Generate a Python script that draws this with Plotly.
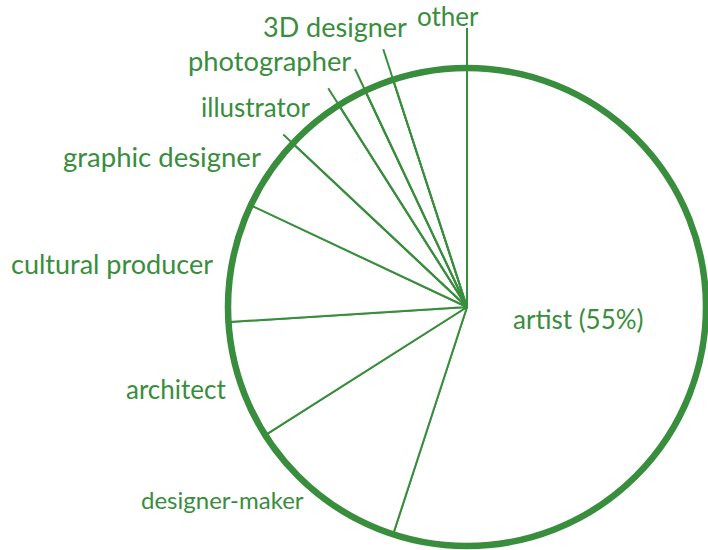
import math
import plotly.graph_objects as go

# Share of respondents by self-described role (percent)
roles = ["artist", "designer-maker", "architect", "cultural producer",
         "graphic designer", "illustrator", "photographer", "3D designer", "other"]
shares = [55, 11, 8, 8, 5, 4, 2, 2, 5]

# ---- layout constants -------------------------------------------------
W, H = 708, 550
CX, CY, R = 467, 307, 239          # pie centre / radius in pixels
GREEN = "#388e3c"
FONT = "Lato, 'Open Sans', sans-serif"

# small slices get their closing edge extended out towards the label
leader_reach = {"graphic designer": 252, "illustrator": 259,
                "photographer": 263, "3D designer": 271, "other": 279}

# label placement: (x centre px, baseline px, font size)
label_style = {
    "artist": (578, 328, 26),
    "designer-maker": (222, 507, 24),
    "architect": (176, 398, 26),
    "cultural producer": (112, 272, 27),
    "graphic designer": (162, 166, 27.5),
    "illustrator": (256, 116, 26),
    "photographer": (269, 70, 27.3),
    "3D designer": (335, 35, 27),
    "other": (448, 25, 26),
}


def px(x):
    return x / W


def py(y):
    return 1 - y / H


fig = go.Figure(go.Pie(
    labels=roles,
    values=shares,
    sort=False,
    direction="clockwise",
    rotation=0,
    textinfo="none",
    hoverinfo="label+percent",
    marker=dict(colors=["white"] * len(roles), line=dict(color=GREEN, width=2)),
    domain=dict(x=[px(CX - R), px(CX + R)], y=[py(CY + R), py(CY - R)]),
    showlegend=False,
))

shapes = []
# heavy outer rim
shapes.append(dict(type="circle", xref="paper", yref="paper",
                   x0=px(CX - R), x1=px(CX + R), y0=py(CY + R), y1=py(CY - R),
                   line=dict(color=GREEN, width=6.5), layer="above"))

total = sum(shares)
cum = 0
annotations = []
for role, val in zip(roles, shares):
    cum += val
    end_ang = math.radians(cum / total * 360)
    if role in leader_reach:
        reach = leader_reach[role]
        shapes.append(dict(type="line", xref="paper", yref="paper",
                           x0=px(CX), y0=py(CY),
                           x1=px(CX + reach * math.sin(end_ang)),
                           y1=py(CY - reach * math.cos(end_ang)),
                           line=dict(color=GREEN, width=2), layer="above"))
    x, base, fs = label_style[role]
    text = f"{role} ({val}%)" if role == "artist" else role
    annotations.append(dict(text=text, x=px(x), y=py(base - 0.33 * fs),
                            xref="paper", yref="paper", xanchor="center",
                            yanchor="middle", showarrow=False,
                            font=dict(family=FONT, size=fs, color=GREEN)))

fig.update_layout(
    width=W, height=H,
    margin=dict(l=0, r=0, t=0, b=0),
    paper_bgcolor="white", plot_bgcolor="white",
    shapes=shapes, annotations=annotations,
)

fig.write_html("out.html")
